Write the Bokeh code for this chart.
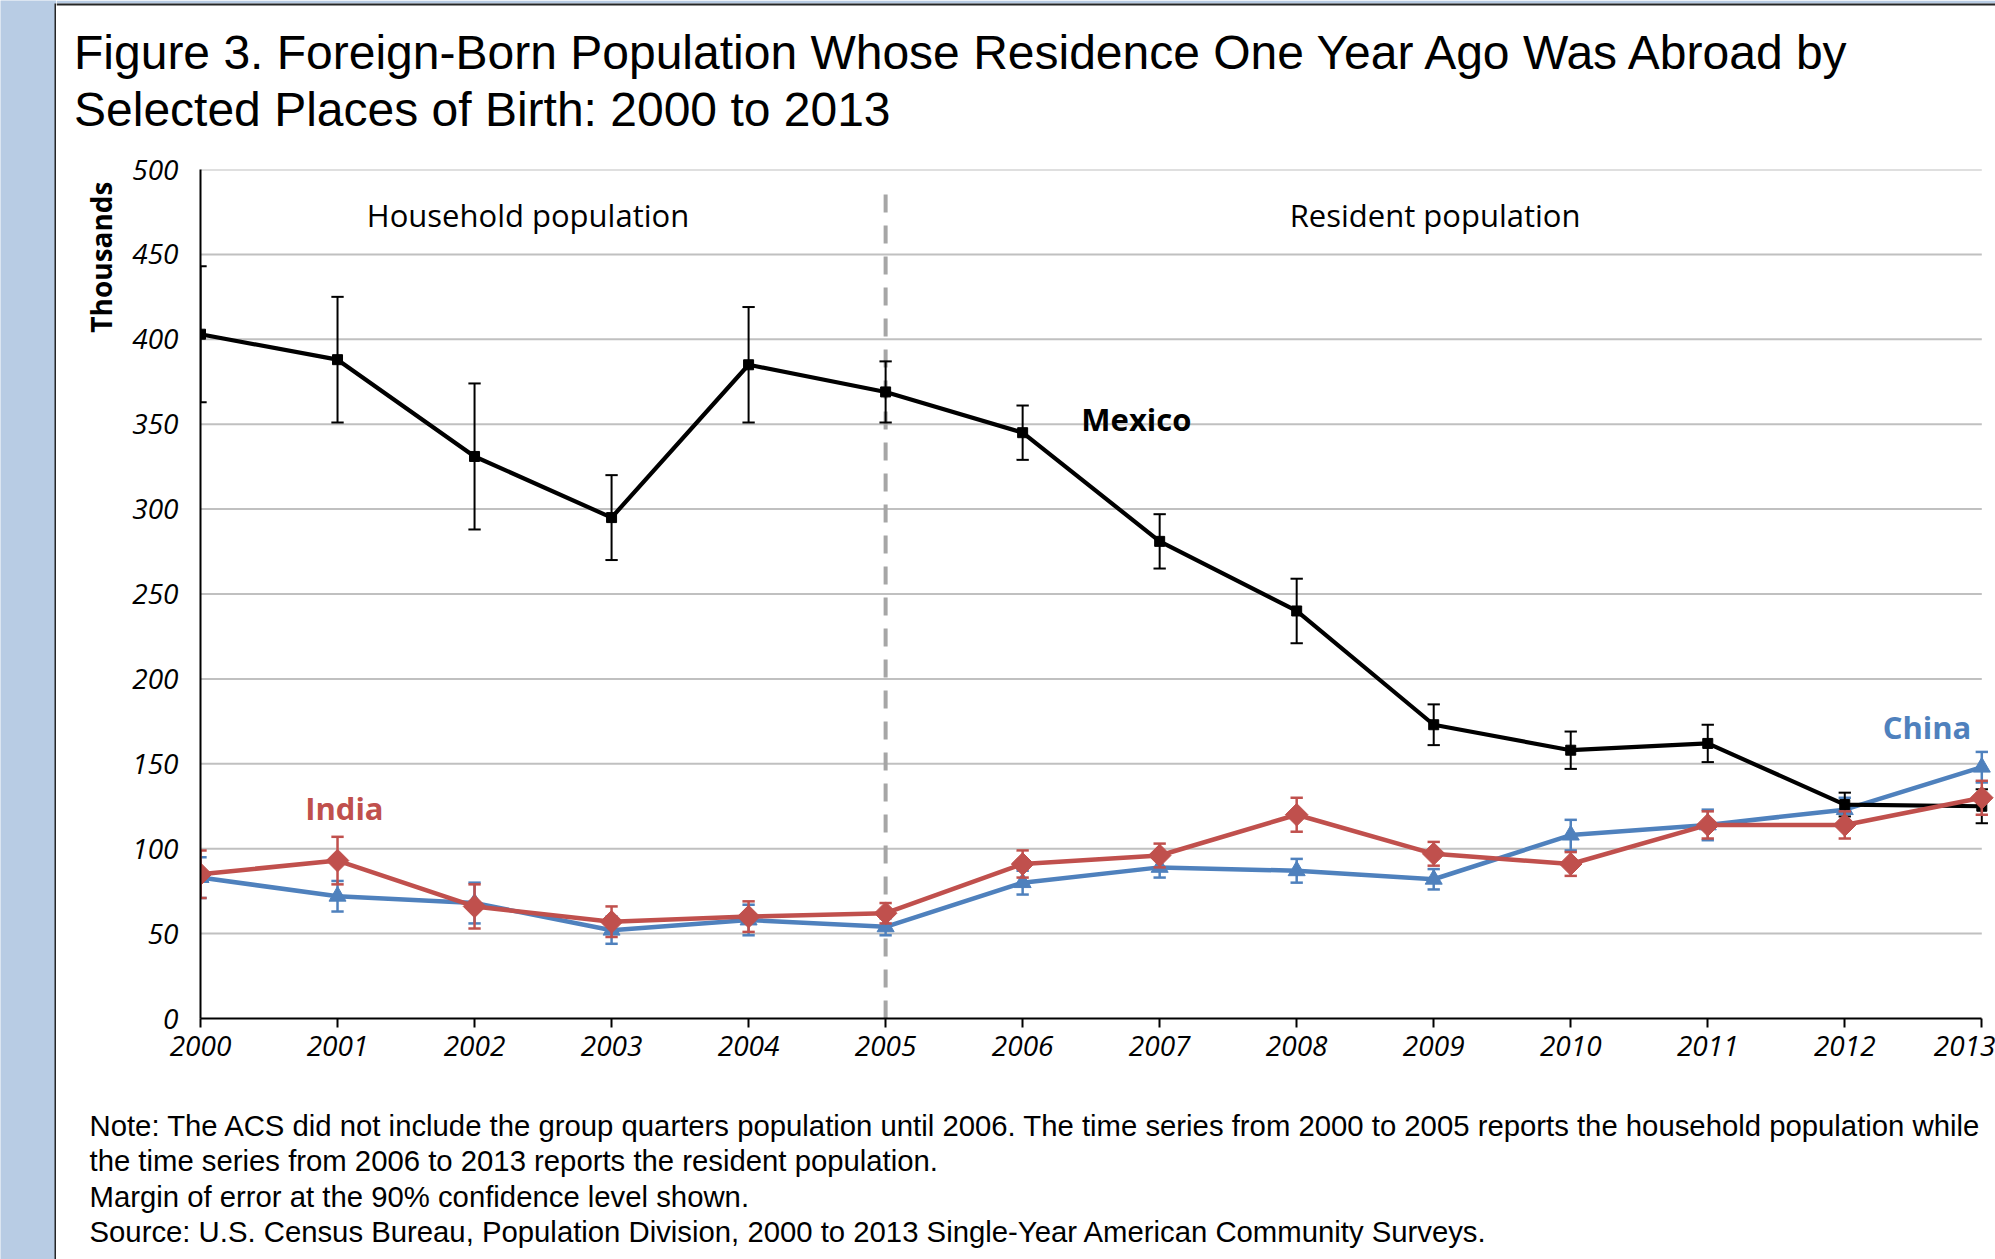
import numpy as np
from bokeh.plotting import figure
from bokeh.models import Range1d, Label, FixedTicker
from bokeh.layouts import row, column
from bokeh.embed import file_html
from bokeh.resources import INLINE

# ---------------- data ----------------
years = list(range(2000, 2014))
mexico = [403, 388, 331, 295, 385, 369, 345, 281, 240, 173, 158, 162, 126, 125]
mexico_moe = [40, 37, 43, 25, 34, 18, 16, 16, 19, 12, 11, 11, 7, 10]
india = [85, 93, 66, 57, 60, 62, 91, 96, 120, 97, 91, 114, 114, 130]
india_moe = [14, 14, 13, 9, 9, 6, 8, 7, 10, 7, 7, 8, 8, 10]
china = [83, 72, 68, 52, 58, 54, 80, 89, 87, 82, 108, 114, 123, 148]
china_moe = [12, 9, 12, 8, 9, 5, 7, 6, 7, 6, 9, 9, 7, 9]
y_ticks = [0, 50, 100, 150, 200, 250, 300, 350, 400, 450, 500]
x_ticks = years
divider_year = 2005
divider_top = 490

title_lines = ["Figure 3. Foreign-Born Population  Whose Residence One Year Ago Was Abroad by",
               "Selected Places of Birth: 2000 to 2013"]
note_lines = [
    "Note: The ACS did not include the group quarters population until 2006. The time series from 2000 to 2005 reports the household population while",
    "the time series from 2006 to 2013 reports the resident population.",
    "Margin of error at the 90% confidence level shown.",
    "Source: U.S. Census Bureau, Population Division, 2000 to 2013 Single-Year American Community Surveys.",
]

# ---------------- geometry ----------------
W, H = 1995, 1259
STRIP = 56            # blue strip + dark border line
HEADER = 150          # title panel height
NOTES_TOP = 1090      # start of the notes panel
YLAB_W = 70           # panel holding the rotated "Thousands"
FRAME_L, FRAME_T, FRAME_B = 200, 169, 1018
BLUE = "#b8cce4"
DARK = "#262626"


def pixel_fig(w, h, bg="white"):
    f = figure(width=w, height=h, output_backend="svg", toolbar_location=None,
               x_range=Range1d(0, w), y_range=Range1d(h, 0),
               x_axis_type=None, y_axis_type=None, title_location=None,
               min_border=0, min_border_left=0, min_border_right=0,
               min_border_top=0, min_border_bottom=0)
    f.background_fill_color = bg
    f.border_fill_color = bg
    f.outline_line_color = None
    f.xgrid.visible = False
    f.ygrid.visible = False
    return f


# blue strip with the dark vertical border line
strip = pixel_fig(STRIP, H, BLUE)
strip.quad(left=[54], right=[STRIP], top=[3], bottom=[H], fill_color=DARK, line_color=None)

RW = W - STRIP

# header with title
header = pixel_fig(RW, HEADER)
header.quad(left=[0], right=[RW], top=[0], bottom=[3], fill_color=BLUE, line_color=None)
header.quad(left=[0], right=[RW], top=[3], bottom=[5], fill_color=DARK, line_color=None)
for i, line in enumerate(title_lines):
    header.add_layout(Label(x=73.5 - STRIP, y=52 + 56.5 * i, text=line, text_font="Liberation Sans",
                            text_font_size="48px", text_color="black",
                            text_baseline="alphabetic", text_align="left"))

MID_H = NOTES_TOP - HEADER

# y axis title panel
ylab = pixel_fig(YLAB_W, MID_H)
ylab.add_layout(Label(x=100 - STRIP, y=247 - HEADER, text="Thousands", text_font="Open Sans",
                      text_font_size="28px", text_font_style="bold", text_color="black",
                      angle=np.pi / 2, text_align="center", text_baseline="middle"))

# main chart
MW = RW - YLAB_W
p = figure(width=MW, height=MID_H, output_backend="svg", toolbar_location=None,
           x_range=Range1d(2000, 2013.1), y_range=Range1d(0, 500), title_location=None,
           min_border_left=FRAME_L - STRIP - YLAB_W, min_border_right=0,
           min_border_top=FRAME_T - HEADER, min_border_bottom=NOTES_TOP - FRAME_B)
p.background_fill_color = "white"
p.border_fill_color = "white"
p.outline_line_color = None
p.xgrid.visible = False
p.ygrid.visible = False

TICK_FONT = "Open Sans"
p.yaxis.ticker = FixedTicker(ticks=y_ticks)
p.yaxis.major_tick_out = 0
p.yaxis.major_tick_in = 0
p.yaxis.minor_tick_out = 0
p.yaxis.minor_tick_in = 0
p.yaxis.axis_line_width = 2
p.yaxis.axis_line_color = "black"
p.yaxis.major_label_standoff = 22
p.yaxis.major_label_text_font = TICK_FONT
p.yaxis.major_label_text_font_style = "italic"
p.yaxis.major_label_text_font_size = "28px"
p.yaxis.major_label_text_color = "black"

p.xaxis.ticker = FixedTicker(ticks=x_ticks)
p.xaxis.bounds = (2000, 2013)
p.xaxis.major_tick_out = 9
p.xaxis.major_tick_in = 0
p.xaxis.minor_tick_out = 0
p.xaxis.minor_tick_in = 0
p.xaxis.major_tick_line_width = 2
p.xaxis.major_tick_line_color = "black"
p.xaxis.axis_line_width = 2
p.xaxis.axis_line_color = "black"
p.xaxis.major_label_standoff = 8
p.xaxis.major_label_text_font = TICK_FONT
p.xaxis.major_label_text_font_style = "italic"
p.xaxis.major_label_text_font_size = "28px"
p.xaxis.major_label_text_color = "black"

# gridlines (only between 2000 and 2013)
grid_y = [v for v in y_ticks if v > 0]
p.segment(x0=[x_ticks[0]] * len(grid_y), y0=grid_y, x1=[x_ticks[-1]] * len(grid_y), y1=grid_y,
          line_color="#c0c0c0", line_width=2)

# divider between household and resident population
p.segment(x0=[divider_year], y0=[0], x1=[divider_year], y1=[divider_top],
          line_color="#a6a6a6", line_width=4, line_dash="18 13")

CAP = 0.045


def series(vals, moe, color, marker, size, angle, lw, ew):
    lo = [v - m for v, m in zip(vals, moe)]
    hi = [v + m for v, m in zip(vals, moe)]
    p.line(years, vals, line_color=color, line_width=lw, line_join="round")
    p.segment(x0=years, y0=lo, x1=years, y1=hi, line_color=color, line_width=ew)
    xl = [x - CAP for x in years]
    xr = [x + CAP for x in years]
    p.segment(x0=xl, y0=lo, x1=xr, y1=lo, line_color=color, line_width=ew)
    p.segment(x0=xl, y0=hi, x1=xr, y1=hi, line_color=color, line_width=ew)
    p.scatter(years, vals, marker=marker, size=size, angle=angle,
              fill_color=color, line_color=color)


series(china, china_moe, "#4f81bd", "triangle", 17, 0, 4.5, 2.5)
series(mexico, mexico_moe, "black", "square", 10, 0, 4.2, 2)
series(india, india_moe, "#c0504d", "square", 16, np.pi / 4, 4.5, 2.5)

ANN_FONT = "Open Sans"
for txt, x, y, col, style in [
    ("Household population", 2002.39, 473, "black", "normal"),
    ("Resident population", 2009.01, 473, "black", "normal"),
    ("Mexico", 2006.83, 353, "black", "bold"),
    ("India", 2001.05, 124, "#c0504d", "bold"),
    ("China", 2012.6, 171.5, "#4f81bd", "bold"),
]:
    p.add_layout(Label(x=x, y=y, text=txt, text_font=ANN_FONT, text_font_size="31px",
                       text_font_style=style, text_color=col, text_align="center",
                       text_baseline="middle"))

# notes panel
notes = pixel_fig(RW, H - NOTES_TOP)
for i, line in enumerate(note_lines):
    notes.add_layout(Label(x=89 - STRIP, y=1125 + 35.3 * i - NOTES_TOP, text=line,
                           text_font="Liberation Sans", text_font_size="29.3px",
                           text_color="black", text_baseline="middle", text_align="left"))

layout = row(strip, column(header, row(ylab, p, spacing=0), notes, spacing=0), spacing=0)

open("out.html", "w").write(file_html(layout, INLINE))
